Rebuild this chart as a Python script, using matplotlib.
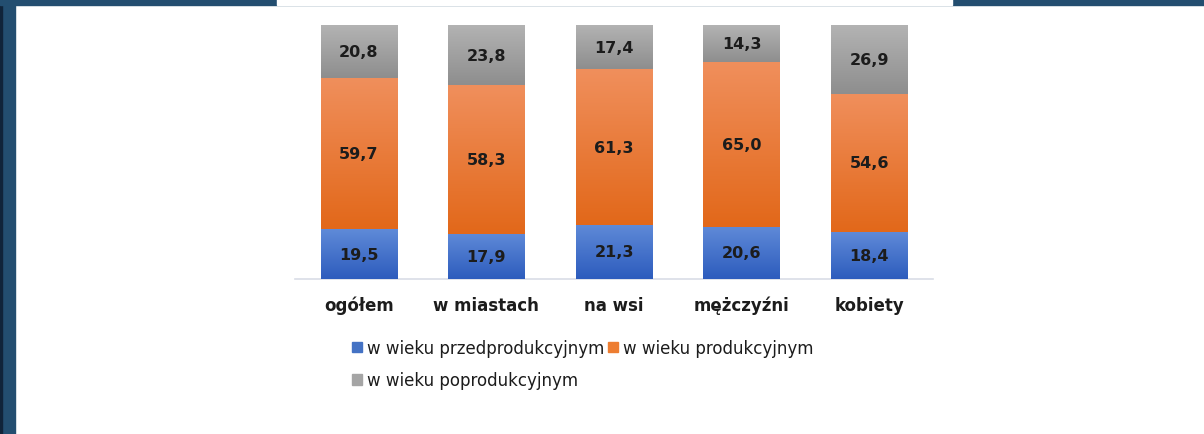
import numpy as np
import matplotlib
matplotlib.use("Agg")
import matplotlib.pyplot as plt
from matplotlib.colors import LinearSegmentedColormap
from matplotlib.patches import Rectangle, Patch

# data
categories = ["ogółem", "w miastach", "na wsi", "mężczyźni", "kobiety"]
przed = [19.5, 17.9, 21.3, 20.6, 18.4]
prod = [59.7, 58.3, 61.3, 65.0, 54.6]
poprod = [20.8, 23.8, 17.4, 14.3, 26.9]
series_names = ["w wieku przedprodukcyjnym", "w wieku produkcyjnym", "w wieku poprodukcyjnym"]

# (bottom colour, top colour) for the gradient fill
grads = [("#2d5cbd", "#5f8ad8"), ("#e2681a", "#f08f5c"), ("#8e8e8e", "#b3b3b3")]
solid = ["#4472c4", "#ed7d31", "#a5a5a5"]

plt.rcParams['font.family'] = ['DejaVu Sans']
W, H = 1204, 435
fig = plt.figure(figsize=(W / 100, H / 100), dpi=100)
fig.patch.set_facecolor("white")

# dark frame: left bar and top strip only
frame = "#234e70"
fig.patches.append(Rectangle((0, 0), 15 / W, 1, transform=fig.transFigure, color=frame, zorder=0))
fig.patches.append(Rectangle((0, 0), 1.5 / W, 1, transform=fig.transFigure, color="#10243a", zorder=0))
fig.patches.append(Rectangle((0, 1 - 6 / H), 1, 6 / H, transform=fig.transFigure, color=frame, zorder=0))
fig.patches.append(Rectangle((277 / W, 1 - 6 / H), 675 / W, 6 / H, transform=fig.transFigure, color="white", zorder=1))

ax = fig.add_axes([295 / W, (H - 280) / H, (933 - 295) / W, (280 - 26) / H])
x = np.arange(len(categories))
bw = 0.6

bottoms = np.zeros(len(categories))
for vals, (c0, c1), sc in zip([przed, prod, poprod], grads, solid):
    bars = ax.bar(x, vals, bw, bottom=bottoms, color=sc, linewidth=0, zorder=2)
    cmap = LinearSegmentedColormap.from_list("g", [c0, c1])
    grad = np.linspace(0, 1, 100).reshape(-1, 1)
    for b, v, b0 in zip(bars, vals, bottoms):
        ax.imshow(grad, cmap=cmap, origin="lower", aspect="auto", zorder=3,
                  extent=(b.get_x(), b.get_x() + bw, b0, b0 + v), interpolation="bicubic")
        ax.text(b.get_x() + bw / 2, b0 + v / 2, f"{v:.1f}".replace(".", ","),
                ha="center", va="center", fontsize=11.5, fontweight="bold",
                color="#1c1c1c", zorder=4)
    bottoms = bottoms + np.array(vals)

ax.set_xlim(-0.5, len(categories) - 0.5)
ax.set_ylim(0, 100)
for s in ["top", "right", "left"]:
    ax.spines[s].set_visible(False)
ax.spines["bottom"].set_color("#d9dde6")
ax.spines["bottom"].set_linewidth(1.2)
ax.set_yticks([])
ax.set_xticks(x)
ax.set_xticklabels(categories, fontsize=12, color="#1c1c1c", fontweight="semibold")
ax.tick_params(axis="x", length=0, pad=12)

handles = [Patch(color=solid[0]), Patch(color=solid[2]), Patch(color=solid[1])]
labels = [series_names[0], series_names[2], series_names[1]]
fig.legend(handles, labels, ncol=2, loc="upper left",
           bbox_to_anchor=(337 / W, 1 - 325 / H), frameon=False,
           fontsize=12, handlelength=0.6, handleheight=0.6, handletextpad=0.3,
           columnspacing=0.2, labelspacing=0.85, labelcolor="#1c1c1c")

fig.savefig("out.png", dpi=100)
